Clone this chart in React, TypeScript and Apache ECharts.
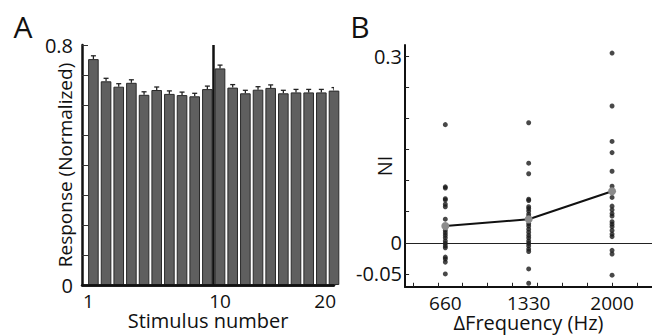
import React, { useEffect, useRef } from "react";
import * as echarts from "echarts";

// Panel A data
const stimulusNumbers = [1, 2, 3, 4, 5, 6, 7, 8, 9, 10, 11, 12, 13, 14, 15, 16, 17, 18, 19, 20];
const responses = [0.753, 0.679, 0.661, 0.674, 0.634, 0.650, 0.637, 0.633, 0.629, 0.653, 0.722, 0.658, 0.639, 0.651, 0.657, 0.639, 0.642, 0.642, 0.642, 0.648];
const responseErrors = [0.011, 0.01, 0.01, 0.01, 0.01, 0.01, 0.01, 0.01, 0.01, 0.01, 0.011, 0.01, 0.01, 0.01, 0.01, 0.01, 0.01, 0.01, 0.01, 0.01];
const stimulusTickLabels = ["1", "10", "20"];
const stimulusTickPositions = [0.6, 11.0, 19.3];
const deviantMarker = 10.5;

// Panel B data
const deltaFrequencies = [660, 1330, 2000];
const ni660 = [0.190, 0.090, 0.088, 0.071, 0.069, 0.062, 0.058, 0.038, 0.020, 0.016, 0.012, 0.008, 0.003, -0.001, -0.005, -0.008, -0.023, -0.026, -0.031, -0.050];
const ni1330 = [0.193, 0.128, 0.111, 0.070, 0.068, 0.058, 0.055, 0.051, 0.046, 0.042, 0.031, 0.027, 0.022, 0.017, 0.012, 0.008, 0.003, -0.001, -0.005, -0.010, -0.014, -0.042, -0.065];
const ni2000 = [0.305, 0.220, 0.163, 0.145, 0.115, 0.091, 0.073, 0.059, 0.053, 0.047, 0.043, 0.034, 0.030, 0.026, 0.020, 0.014, 0.010, -0.012, -0.018, -0.052];
const niMeans = [0.027, 0.038, 0.083];
const niTickValues = [-0.05, 0, 0.05, 0.1, 0.15, 0.2, 0.25, 0.3];
const niLabelValues = [-0.05, 0, 0.3];
const freqTickValues = [400, 600, 800, 1000, 1200, 1400, 1600, 1800, 2000, 2200];
const freqMin = 336;
const freqMax = 2321;
const niMin = -0.071;
const niMax = 0.318;

const FONT = "Open Sans";

export default function App() {
  const ref = useRef<HTMLDivElement>(null);
  useEffect(() => {
    if (!ref.current) return;
    const chart = echarts.init(ref.current, null, { renderer: "svg" });
    const niColumns = [ni660, ni1330, ni2000];
    const dots: number[][] = [];
    niColumns.forEach((col, i) => col.forEach((v) => dots.push([deltaFrequencies[i], v])));

    const nameStyle = { fontFamily: FONT, fontSize: 20, color: "#111" };
    const labelBase = { fontFamily: FONT, fontSize: 19, color: "#111" };
    const near = (a: number, b: number) => Math.abs(a - b) < 1e-6;

    // Panel B axis frame and inside ticks as mark lines (tick lengths in axis units, about 4 px)
    const freqTickLen = 32;
    const niTickLen = 0.0065;
    const axisLineStyle = { color: "#111", width: 2, type: "solid" };
    const tickLineStyle = { color: "#222", width: 1, type: "solid" };
    const panelBLines: any[] = [
      { yAxis: 0, lineStyle: { color: "#222", width: 1, type: "solid" } },
      { xAxis: freqMin, lineStyle: axisLineStyle },
      { yAxis: niMin, lineStyle: axisLineStyle },
      ...niTickValues.map((v) => [
        { coord: [freqMin + 1, v], lineStyle: tickLineStyle },
        { coord: [freqMin + 1 + freqTickLen, v] },
      ]),
      ...freqTickValues.map((f) => [
        { coord: [f, niMin + 0.0003], lineStyle: tickLineStyle },
        { coord: [f, niMin + 0.0003 + niTickLen] },
      ]),
    ];

    const option: any = {
      animation: false,
      backgroundColor: "#ffffff",
      textStyle: { fontFamily: FONT },
      graphic: [
        { type: "text", x: 23, y: 26, z: 10, style: { text: "A", font: `30px '${FONT}'`, fill: "#111", align: "center", verticalAlign: "middle" } },
        { type: "text", x: 360, y: 26, z: 10, style: { text: "B", font: `30px '${FONT}'`, fill: "#111", align: "center", verticalAlign: "middle" } },
      ],
      grid: [
        { left: 82, top: 45, right: 318, bottom: 50, outerBoundsMode: "none", containLabel: false },
        { left: 405, top: 45, right: 0, bottom: 48, outerBoundsMode: "none", containLabel: false },
      ],
      xAxis: [
        {
          gridIndex: 0,
          type: "value",
          min: 0.1,
          max: 20,
          name: "Stimulus number",
          nameLocation: "middle",
          nameGap: 25,
          nameMoveOverlap: false,
          nameTextStyle: nameStyle,
          axisLine: { show: true, onZero: false, lineStyle: { color: "#111", width: 2.5 } },
          axisTick: { show: false },
          splitLine: { show: false },
          axisLabel: {
            customValues: stimulusTickPositions,
            formatter: (v: number) => {
              const i = stimulusTickPositions.findIndex((p) => near(p, v));
              return i >= 0 ? stimulusTickLabels[i] : "";
            },
            ...labelBase,
            margin: 6,
          },
        },
        {
          gridIndex: 1,
          type: "value",
          min: freqMin,
          max: freqMax,
          name: "\u0394Frequency (Hz)",
          nameLocation: "middle",
          nameGap: 25,
          nameMoveOverlap: false,
          nameTextStyle: nameStyle,
          axisLine: { show: true, onZero: false, lineStyle: { color: "#111", width: 2 } },
          axisTick: { show: false },
          splitLine: { show: false },
          axisLabel: {
            customValues: deltaFrequencies,
            formatter: (v: number) => String(v),
            ...labelBase,
            margin: 6,
          },
        },
      ],
      yAxis: [
        {
          gridIndex: 0,
          type: "value",
          min: 0,
          max: 0.8,
          interval: 0.1,
          name: "Response (Normalized)",
          nameLocation: "middle",
          nameGap: 8,
          nameMoveOverlap: false,
          nameTextStyle: { ...nameStyle, fontSize: 19 },
          axisLine: { show: true, onZero: false, lineStyle: { color: "#111", width: 2.5 } },
          axisTick: { show: true, inside: true, length: 6, lineStyle: { color: "#333", width: 1 } },
          splitLine: { show: false },
          axisLabel: {
            formatter: (v: number) => (near(v, 0) ? "0" : near(v, 0.8) ? "0.8" : ""),
            ...labelBase,
            fontSize: 20,
            margin: 9,
          },
        },
        {
          gridIndex: 1,
          type: "value",
          min: niMin,
          max: niMax,
          name: "NI",
          nameLocation: "middle",
          nameGap: 11,
          nameMoveOverlap: false,
          nameTextStyle: nameStyle,
          axisLine: { show: true, onZero: false, lineStyle: { color: "#111", width: 2 } },
          axisTick: { show: false },
          splitLine: { show: false },
          axisLabel: {
            customValues: niLabelValues,
            formatter: (v: number) => (near(v, 0) ? "0" : String(v)),
            ...labelBase,
            fontSize: 20,
            margin: 3,
          },
        },
      ],
      series: [
        {
          type: "bar",
          xAxisIndex: 0,
          yAxisIndex: 0,
          barWidth: 10.6,
          clip: true,
          data: stimulusNumbers.map((s, i) => [s, responses[i]]),
          itemStyle: { color: "#5f5f5f", borderColor: "#2a2a2a", borderWidth: 1 },
          markLine: {
            silent: true,
            symbol: "none",
            label: { show: false },
            lineStyle: { color: "#111", width: 2.5, type: "solid" },
            data: [{ xAxis: deviantMarker }, { yAxis: 0 }],
          },
        },
        {
          type: "custom",
          xAxisIndex: 0,
          yAxisIndex: 0,
          clip: true,
          data: stimulusNumbers.map((s, i) => [s, responses[i], responseErrors[i]]),
          renderItem: (params: any, api: any) => {
            const x = api.value(0);
            const y = api.value(1);
            const e = api.value(2);
            const base = api.coord([x, y]);
            const top = api.coord([x, y + e]);
            const st = { stroke: "#222", lineWidth: 1.3 };
            return {
              type: "group",
              children: [
                { type: "line", shape: { x1: base[0], y1: base[1], x2: top[0], y2: top[1] }, style: st },
                { type: "line", shape: { x1: top[0] - 2.5, y1: top[1], x2: top[0] + 2.5, y2: top[1] }, style: st },
              ],
            };
          },
        },
        {
          type: "scatter",
          xAxisIndex: 1,
          yAxisIndex: 1,
          symbolSize: 5,
          clip: false,
          itemStyle: { color: "#1a1a1a" },
          data: dots,
          markLine: {
            silent: true,
            symbol: "none",
            label: { show: false },
            data: panelBLines,
          },
        },
        {
          type: "line",
          xAxisIndex: 1,
          yAxisIndex: 1,
          data: deltaFrequencies.map((f, i) => [f, niMeans[i]]),
          lineStyle: { color: "#111", width: 2 },
          symbol: "circle",
          symbolSize: 8,
          itemStyle: { color: "#8c8c8c", borderWidth: 0 },
          z: 5,
        },
      ],
    };
    chart.setOption(option);
    return () => chart.dispose();
  }, []);
  return <div ref={ref} style={{ position: "fixed", left: 0, top: 0, width: 652, height: 335 }} />;
}
